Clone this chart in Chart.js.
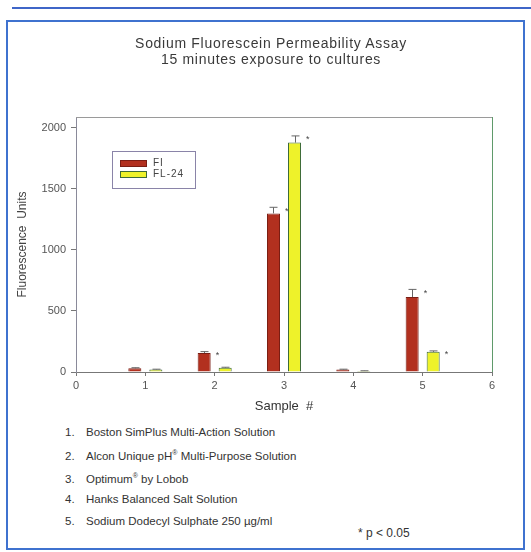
<!DOCTYPE html>
<html>
<head>
<meta charset="utf-8">
<script src="https://cdn.jsdelivr.net/npm/chart.js@4.4.1/dist/chart.umd.min.js"></script>
<style>
  html, body { margin: 0; padding: 0; background: #fff; }
  body { width: 531px; height: 552px; position: relative; overflow: hidden; font-family: "Liberation Sans", Arial, sans-serif; }
  #topline { position: absolute; left: 12px; top: 7px; width: 519px; height: 2px; background: #3f66c8; }
  #frame { position: absolute; left: 6px; top: 20px; width: 515px; height: 526px; border: 2px solid #3f72cf; }
  #wrap { position: absolute; left: 0; top: 0; width: 531px; height: 420px; }
  #title { position: absolute; left: 51px; width: 440px; top: 35px; text-align: center; font-size: 14px; line-height: 16px; letter-spacing: 0.7px; color: #3a3a3a; }
  .note { position: absolute; left: 65px; font-size: 11.5px; color: #333; white-space: nowrap; }
  .note span.n { display: inline-block; width: 21px; }
  sup { font-size: 7px; vertical-align: top; position: relative; top: -1px; }
  #pval { position: absolute; left: 358px; top: 526px; font-size: 12px; color: #333; }
</style>
</head>
<body>
<div id="topline"></div>
<div id="frame"></div>
<div id="wrap"><canvas id="c" width="531" height="420"></canvas></div>
<div id="title">Sodium Fluorescein Permeability Assay<br>15 minutes exposure to cultures</div>
<div class="note" style="top:426px"><span class="n">1.</span>Boston SimPlus Multi-Action Solution</div>
<div class="note" style="top:450px"><span class="n">2.</span>Alcon Unique pH<sup>®</sup> Multi-Purpose Solution</div>
<div class="note" style="top:473px"><span class="n">3.</span>Optimum<sup>®</sup> by Lobob</div>
<div class="note" style="top:493px"><span class="n">4.</span>Hanks Balanced Salt Solution</div>
<div class="note" style="top:515px"><span class="n">5.</span>Sodium Dodecyl Sulphate 250 µg/ml</div>
<div id="pval">* p &lt; 0.05</div>
<script>
const samples = [1, 2, 3, 4, 5];
const seriesNames = ["FI", "FL-24"];
const fiValues = [30, 155, 1300, 20, 615];
const fl24Values = [20, 35, 1880, 8, 165];
const fiErrors = [5, 12, 50, 3, 62];
const fl24Errors = [3, 4, 55, 2, 8];
const fiSignificant = [false, true, true, false, true];
const fl24Significant = [false, false, true, false, true];
const xTicks = [0, 1, 2, 3, 4, 5, 6];
const yTicks = [0, 500, 1000, 1500, 2000];

const toPoints = vals => samples.map((s, i) => ({ x: s, y: vals[i] }));

const extrasPlugin = {
  id: 'extras',
  beforeDatasetsDraw(chart) {
    const { ctx, chartArea: a } = chart;
    ctx.save();
    ctx.lineWidth = 1;
    ctx.strokeStyle = '#9a9a9a';
    ctx.beginPath(); ctx.moveTo(a.left, a.top + 0.5); ctx.lineTo(a.right, a.top + 0.5); ctx.stroke();
    ctx.strokeStyle = '#5f9a6a';
    ctx.beginPath(); ctx.moveTo(a.right + 0.5, a.top); ctx.lineTo(a.right + 0.5, a.bottom); ctx.stroke();
    ctx.restore();
  },
  afterDatasetsDraw(chart) {
    const { ctx } = chart;
    const yScale = chart.scales.y;
    const errs = [fiErrors, fl24Errors];
    const sigs = [fiSignificant, fl24Significant];
    ctx.save();
    chart.data.datasets.forEach((ds, di) => {
      const meta = chart.getDatasetMeta(di);
      meta.data.forEach((el, i) => {
        const v = ds.data[i].y;
        const topPx = yScale.getPixelForValue(v + errs[di][i]);
        const x = Math.round(el.x) + 0.5;
        ctx.strokeStyle = '#666';
        ctx.lineWidth = 1;
        ctx.beginPath();
        ctx.moveTo(x, el.y); ctx.lineTo(x, topPx);
        ctx.moveTo(x - 4, topPx); ctx.lineTo(x + 4, topPx);
        ctx.stroke();
        if (sigs[di][i]) {
          ctx.fillStyle = '#444';
          ctx.font = '9px "Liberation Sans", Arial, sans-serif';
          ctx.textAlign = 'left';
          ctx.textBaseline = 'middle';
          ctx.fillText('*', el.x + el.width / 2 + 5, Math.min(el.y, topPx) + 4);
        }
      });
    });
    // legend box inside plot
    const lx = 112, ly = 151, lw = 83, lh = 37;
    ctx.strokeStyle = '#8a84a8';
    ctx.lineWidth = 1;
    ctx.strokeRect(lx + 0.5, ly + 0.5, lw, lh);
    chart.data.datasets.forEach((ds, di) => {
      const sy = ly + 9 + di * 11;
      ctx.fillStyle = ds.backgroundColor;
      ctx.fillRect(lx + 8, sy, 26, 6);
      ctx.strokeStyle = ds.borderColor;
      ctx.strokeRect(lx + 8.5, sy + 0.5, 26, 6);
      ctx.fillStyle = '#444';
      ctx.font = '10px "Liberation Sans", Arial, sans-serif';
      ctx.letterSpacing = '1px';
      ctx.textAlign = 'left';
      ctx.textBaseline = 'middle';
      ctx.fillText(ds.label, lx + 41, sy + 3);
      ctx.letterSpacing = '0px';
    });
    ctx.restore();
  }
};

const tickFont = { size: 11, family: '"Liberation Sans", Arial, sans-serif' };

new Chart(document.getElementById('c'), {
  type: 'bar',
  data: {
    datasets: [
      { label: seriesNames[0], data: toPoints(fiValues), backgroundColor: '#b2301f', borderColor: '#7a1e14', borderWidth: 1 },
      { label: seriesNames[1], data: toPoints(fl24Values), backgroundColor: '#eef22a', borderColor: '#3c6a3a', borderWidth: 1 }
    ]
  },
  options: {
    responsive: false,
    animation: false,
    categoryPercentage: 0.606,
    barPercentage: 0.62,
    layout: { padding: { left: 12, right: 39, top: 117, bottom: 0 } },
    plugins: { legend: { display: false }, tooltip: { enabled: false }, title: { display: false } },
    scales: {
      x: {
        type: 'linear', min: 0, max: 6, offset: false,
        afterFit: s => { s.height = 48; },
        afterBuildTicks: s => { s.ticks = xTicks.map(v => ({ value: v })); },
        grid: { display: true, drawOnChartArea: false, drawTicks: true, tickLength: 4, color: '#777', offset: false },
        border: { display: true, color: '#777', width: 1 },
        ticks: { padding: 3, color: '#555', font: tickFont, callback: v => String(v) },
        title: { display: true, text: 'Sample  #', color: '#333', padding: { top: 0, bottom: 6 }, font: { size: 13, family: '"Liberation Sans", Arial, sans-serif' } }
      },
      y: {
        min: 0, max: 2090,
        afterFit: s => { s.width = 64; },
        afterBuildTicks: s => { s.ticks = yTicks.map(v => ({ value: v })); },
        grid: { display: true, drawOnChartArea: false, drawTicks: true, tickLength: 5, color: '#777' },
        border: { display: true, color: '#8a8a9a', width: 1 },
        ticks: { padding: 5, color: '#555', font: tickFont, callback: v => String(v) },
        title: { display: true, text: 'Fluorescence  Units', color: '#444', padding: { top: 3, bottom: 0 }, font: { size: 12, family: '"Liberation Sans", Arial, sans-serif' } }
      }
    }
  },
  plugins: [extrasPlugin]
});
</script>
</body>
</html>
